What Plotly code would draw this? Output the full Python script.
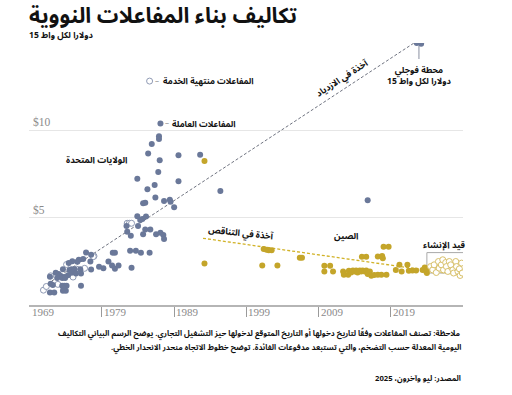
import plotly.graph_objects as go

# ---------------- data ----------------
us_op_years = [1987.1, 1986.9, 1986.9, 1985.9, 1985.4, 1987.0, 1989.6, 1992.6, 1986.8, 1983.9,
               1986.3, 1985.3, 1989.6, 1995.4, 1986.4, 1984.7, 1985.0, 1987.6, 1988.4, 1988.5,
               1989.0, 2015.8,
               1983.9, 1985.1, 1984.6, 1984.3, 1982.4, 1984.0, 1985.0, 1985.7, 1982.5, 1984.7,
               1986.5, 1987.1, 1987.5, 1987.6, 1983.0, 1982.9, 1983.7, 1984.4, 1985.6, 1980.5,
               1980.8, 1976.8, 1977.5, 1976.4, 1975.8, 1975.6, 1977.4, 1979.9, 1980.4, 1980.8,
               1981.3, 1978.6, 1979.2, 1977.5, 1983.1, 1974.9, 1974.4,
               1973.6, 1974.5, 1974.8, 1975.2, 1976.0, 1972.6, 1973.0, 1973.2, 1973.5, 1973.8,
               1974.3, 1974.8, 1975.4, 1976.1, 1971.8, 1972.8, 1973.5, 1973.9, 1971.9, 1972.2,
               1973.5, 1973.8, 1974.1, 1976.1, 1971.8, 1972.4, 1973.6, 1974.0, 1973.7,
               2022.6, 2023.2]
us_op_costs = [10.39, 9.66, 9.51, 9.22, 8.68, 8.29, 8.58, 8.60, 7.61, 7.23,
               6.87, 6.63, 7.09, 6.52, 6.16, 5.82, 5.86, 5.95, 6.03, 5.91,
               5.59, 5.99,
               5.08, 5.06, 4.93, 4.87, 4.53, 4.53, 4.32, 4.32, 4.20, 4.05,
               4.05, 4.14, 4.01, 3.78, 3.97, 3.10, 3.10, 2.99, 2.99, 2.99,
               2.99, 3.00, 2.88, 2.64, 2.59, 2.47, 2.49, 2.49, 2.26, 2.07,
               2.26, 2.19, 2.11, 2.03, 2.13, 2.51, 2.41,
               2.05, 2.01, 2.05, 2.05, 2.05, 1.84, 1.77, 1.67, 1.60, 1.60,
               1.71, 1.84, 1.80, 1.80, 1.62, 1.54, 1.54, 1.54, 1.22, 1.14,
               1.10, 1.10, 1.10, 1.10, 0.72, 0.72, 0.82, 0.82, 0.95,
               15.00, 14.96]

us_ret_years = [1985.6, 1982.5, 1982.8, 1983.1, 1977.9, 1977.8, 1974.1, 1975.5, 1970.9, 1971.3,
                1971.9, 1972.9, 1975.0, 1976.6]
us_ret_costs = [12.82, 4.68, 4.68, 4.68, 2.80, 2.77, 2.32, 2.05, 0.85, 1.06,
                1.67, 1.18, 1.60, 2.10]

cn_op_years = [1993.2, 1993.2, 2001.4, 2001.8, 2002.1, 2002.5, 2001.2, 2003.3, 2006.4, 2006.7,
               2009.8, 2010.6, 2009.8, 2011.0, 2012.4, 2012.5, 2013.1,
               2013.2, 2013.5, 2013.75, 2014.0, 2014.2, 2014.4, 2014.7, 2014.9, 2015.1, 2015.4,
               2015.6, 2015.8, 2016.1, 2016.3, 2016.7, 2017.2, 2017.7, 2018.4,
               2015.0, 2015.6, 2017.2, 2017.8, 2017.9, 2018.0, 2018.7,
               2019.7, 2020.2, 2021.3, 2020.5, 2021.5, 2022.0, 2022.5, 2023.4, 2023.7, 2023.9,
               2024.0, 2024.1]
cn_op_costs = [8.24, 2.37, 3.21, 3.17, 3.14, 3.14, 2.26, 2.26, 2.70, 2.70,
               2.24, 2.24, 1.92, 1.92, 1.92, 1.73, 1.73,
               1.96, 1.86, 1.97, 1.92, 1.97, 1.86, 1.97, 1.92, 1.97, 1.92,
               1.97, 1.77, 1.92, 1.68, 1.72, 1.73, 1.73, 1.73,
               2.76, 2.76, 2.77, 2.81, 2.68, 3.34, 3.34,
               2.01, 2.30, 2.30, 1.92, 1.96, 1.97, 1.97, 2.01, 2.15, 1.92,
               1.83, 2.05]

cn_uc_years = [2024.5, 2024.8, 2025.0, 2025.3, 2025.6, 2025.7, 2026.0, 2026.2, 2026.3, 2026.6,
               2026.7, 2026.9, 2027.1, 2027.3, 2027.6, 2027.7, 2028.0, 2028.1, 2028.3, 2028.5,
               2028.6, 2028.8, 2028.9]
cn_uc_costs = [2.20, 2.01, 2.30, 1.86, 2.49, 2.11, 2.30, 2.59, 2.01, 2.43,
               2.20, 1.92, 2.49, 2.30, 2.01, 1.83, 2.49, 2.20, 1.92, 2.07,
               1.69, 2.40, 1.83]

us_trend_years = [1970.9, 2023.1]
us_trend_costs = [1.06, 15.24]
cn_trend_years = [1993.0, 2029.0]
cn_trend_costs = [3.82, 1.69]

x_ticks = [1969, 1979, 1989, 1999, 2009, 2019]
x_tick_labels = [str(v) for v in x_ticks]
y_grid = [5, 10, 15]
y_label_vals = [5, 10]
y_tick_labels = ["$5", "$10"]

# ---------------- style ----------------
BLUE = "#6a7899"
BLUE_H = "#8f9ab4"
GOLD = "#c4a52a"
AR = "Noto Sans Arabic, DejaVu Sans"
TXT = "#111111"
RLM = "\u200f"

fig = go.Figure()

fig.add_trace(go.Scatter(x=us_trend_years, y=us_trend_costs, mode="lines",
                         line=dict(color="#6f7380", width=1, dash="3px,2px"), hoverinfo="skip"))
fig.add_trace(go.Scatter(x=cn_trend_years, y=cn_trend_costs, mode="lines",
                         line=dict(color="#d1b227", width=1.3, dash="3px,2px"), hoverinfo="skip"))

fig.add_trace(go.Scatter(x=us_ret_years, y=us_ret_costs, mode="markers",
                         marker=dict(size=6, color="white", line=dict(color=BLUE_H, width=1))))
fig.add_trace(go.Scatter(x=us_op_years, y=us_op_costs, mode="markers",
                         marker=dict(size=6, color=BLUE, line=dict(width=0))))
fig.add_trace(go.Scatter(x=cn_op_years, y=cn_op_costs, mode="markers",
                         marker=dict(size=6, color=GOLD, line=dict(width=0))))
fig.add_trace(go.Scatter(x=cn_uc_years, y=cn_uc_costs, mode="markers",
                         marker=dict(size=6, color="white", line=dict(color="#d8c06a", width=1))))
# empty trace that carries the overlay axis used for the $ labels
fig.add_trace(go.Scatter(x=[], y=[], yaxis="y2", hoverinfo="skip"))

# under-construction box
fig.add_shape(type="rect", xref="x", yref="y",
              x0=min(cn_uc_years) - 0.5, x1=max(cn_uc_years) + 0.2,
              y0=1.83, y1=3.0, line=dict(color="#a9a9a9", width=1), fillcolor="rgba(0,0,0,0)",
              layer="below")

def ann(x, y, text, size=9, xref="x", yref="y", xanchor="center", yanchor="middle",
        angle=0, color=TXT, family=AR, **kw):
    fig.add_annotation(x=x, y=y, xref=xref, yref=yref, text=text, showarrow=False,
                       xanchor=xanchor, yanchor=yanchor, textangle=angle,
                       font=dict(family=family, size=size, color=color), **kw)

# year labels sit beside the tick marks (placed on the x scale)
for yr, lab in zip(x_ticks, x_tick_labels):
    ann(yr, 0, lab, size=11, xanchor="left", yanchor="middle", xshift=0, yshift=-7,
        color="#8a8a8a", family="Liberation Serif")

# titles (paper coords: plot area 262px tall, bottom at y=305)
ann(0, (305 - 16) / 262, "<b>تكاليف بناء المفاعلات النووية</b>", size=21.5,
    xref="paper", yref="paper", xanchor="left", xshift=-2)
ann(0, (305 - 35) / 262, "<b>دولارا لكل واط 15</b>", size=8.6,
    xref="paper", yref="paper", xanchor="left", xshift=-2)

# labels
ann(1978.2, 8.3, "<b>الولايات المتحدة</b>", size=8.8)
ann(2012.9, 3.95, "<b>الصين</b>", size=8.8)
ann(2026.5, 3.45, "<b>قيد الإنشاء</b>", size=8.8)
ann(2012.3, 13.0, "<b>آخذة في الازدياد</b>", size=8.8, angle=-33)
ann(1998.2, 4.1, "<b>آخذة في التناقص</b>", size=8.8, angle=6)

# legend-style callouts on two example points
ann(1985.6, 12.82, "–", size=8, color="#999999", xanchor="left", xshift=3)
ann(1985.6, 12.82, "<b>المفاعلات منتهية الخدمة</b>", size=8.5, xanchor="left", xshift=11)
ann(1987.1, 10.39, "–", size=8, color="#999999", xanchor="left", xshift=3)
ann(1987.1, 10.39, "<b>المفاعلات العاملة</b>", size=8.5, xanchor="left", xshift=10)

fig.add_annotation(x=2022.9, y=15.0, xref="x", yref="y",
                   text="<b>محطة فوجلي<br>دولارا لكل واط 15</b>",
                   showarrow=True, arrowhead=0, arrowwidth=1, arrowcolor="#8a8fa0",
                   ax=0, ay=16, standoff=3, yanchor="top",
                   font=dict(family=AR, size=8.6, color=TXT), align="center")

# notes
ann(1, (305 - 333) / 262,
    "<b>ملاحظة: تصنف المفاعلات وفقًا لتاريخ دخولها أو التاريخ المتوقع لدخولها حيز التشغيل التجاري. يوضح الرسم البياني التكاليف</b>",
    size=7.7, xref="paper", yref="paper", xanchor="right")
ann(1, (305 - 347) / 262,
    "<b>اليومية المعدلة حسب التضخم، والتي تستبعد مدفوعات الفائدة. توضح خطوط الاتجاه منحدر الانحدار الخطي." + RLM + "</b>",
    size=7.7, xref="paper", yref="paper", xanchor="right")
ann(1, (305 - 378) / 262, "<b>المصدر: ليو وآخرون، 2025</b>",
    size=7.7, xref="paper", yref="paper", xanchor="right")

fig.update_layout(
    width=512, height=395,
    margin=dict(l=29, r=49, t=43, b=90),
    paper_bgcolor="white", plot_bgcolor="white",
    showlegend=False,
    xaxis=dict(range=[1968.9, 2029], tickvals=x_ticks, ticks="outside", ticklen=10,
               tickcolor="#9a9a9a", tickwidth=1, showgrid=False, zeroline=False,
               showline=True, linecolor="#b5b5b5", linewidth=2, automargin=False,
               showticklabels=False),
    yaxis=dict(range=[0, 15], tickvals=y_grid, showticklabels=False, automargin=False,
               showgrid=True, gridcolor="#e6e6e6", gridwidth=1, zeroline=False,
               showline=False, ticks=""),
    yaxis2=dict(range=[0, 15], overlaying="y", anchor="free", position=0, side="left",
                tickvals=y_label_vals, ticktext=y_tick_labels, automargin=False,
                showgrid=False, zeroline=False, showline=False, ticks="",
                ticklabelposition="inside top",
                tickfont=dict(family="Liberation Serif", size=11.5, color="#8a8a8a")),
)

# the page body has a default 8px margin; remove it so the figure sits at the window origin
fig.write_html("out.html", config={"displayModeBar": False},
               post_script="document.body.style.margin='0';")
